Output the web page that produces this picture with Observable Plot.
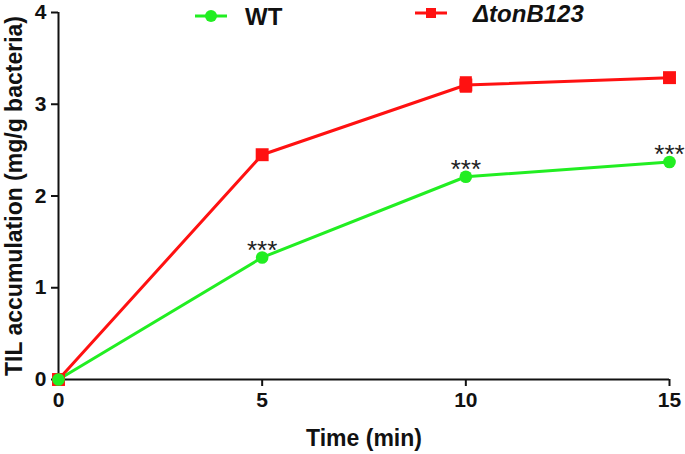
<!DOCTYPE html>
<html><head><meta charset="utf-8">
<script src="https://cdn.jsdelivr.net/npm/d3@7"></script>
<script src="https://cdn.jsdelivr.net/npm/@observablehq/plot@0.6"></script>
<style>
html,body{margin:0;padding:0;background:#fff;}
#wrap{position:relative;width:685px;height:454px;font-family:"Liberation Sans",Arial,sans-serif;}
.leg{position:absolute;font-weight:bold;font-size:24px;color:#111;line-height:1.1;white-space:nowrap;}
.legmk{position:absolute;}
</style></head>
<body><div id="wrap"></div>
<script>
const times = [0, 5, 10, 15];
const wtValues = [0, 1.33, 2.21, 2.37];
const tonValues = [0, 2.45, 3.21, 3.29];
const tonErr = [0, 0, 0.09, 0];
const seriesNames = ["WT", "ΔtonB123"];
const sigLabels = ["", "***", "***", "***"];
const xTicks = [0, 5, 10, 15];
const yTicks = [0, 1, 2, 3, 4];

const green = "#22ee22";
const red = "#ff1111";

const data = [];
times.forEach((t, i) => {
  data.push({time: t, value: wtValues[i], err: 0, series: seriesNames[0], sig: sigLabels[i]});
  data.push({time: t, value: tonValues[i], err: tonErr[i], series: seriesNames[1], sig: ""});
});
const wt = data.filter(d => d.series === "WT");
const ton = data.filter(d => d.series !== "WT");

const chart = Plot.plot({
  width: 685, height: 454,
  marginLeft: 58, marginRight: 16, marginTop: 12, marginBottom: 75,
  style: {fontFamily: "Liberation Sans, Arial, sans-serif", background: "#fff", fontSize: "21px", fontWeight: "bold", color: "#111"},
  x: {domain: [0, 15]},
  y: {domain: [0, 4]},
  marks: [
    Plot.axisX({ticks: xTicks, tickFormat: "d", tickSize: 7, tickPadding: 6, strokeWidth: 2,
      label: "Time (min)", labelAnchor: "center", labelArrow: "none", labelOffset: 66}),
    Plot.axisY({ticks: yTicks, tickFormat: "d", tickSize: 7, tickPadding: 5, strokeWidth: 2,
      label: "TIL accumulation (mg/g bacteria)", labelAnchor: "center", labelArrow: "none", labelOffset: 53}),
    Plot.ruleX([0], {stroke: "#111", strokeWidth: 2}),
    Plot.ruleY([0], {stroke: "#111", strokeWidth: 2}),
    Plot.line(ton, {x: "time", y: "value", stroke: red, strokeWidth: 3}),
    Plot.line(wt, {x: "time", y: "value", stroke: green, strokeWidth: 3}),
    Plot.ruleX(ton, {x: "time", y1: d => d.value - d.err, y2: d => d.value + d.err, stroke: red, strokeWidth: 12}),
    Plot.dot(ton, {x: "time", y: "value", symbol: "square", fill: red, r: 7.3}),
    Plot.dot(wt, {x: "time", y: "value", symbol: "circle", fill: green, r: 6.3}),
    Plot.text(wt, {x: "time", y: "value", text: "sig", dy: -7, fontSize: 26, fontWeight: "normal", fill: "#222", lineAnchor: "middle"})
  ]
});
chart.querySelectorAll("g[aria-label]").forEach(g => {
  const a = g.getAttribute("aria-label");
  if (a.includes("axis label")) {
    g.style.fontSize = "23px";
    g.querySelectorAll("text").forEach(t => t.style.fontSize = "23px");
  }
});
const wrap = document.getElementById("wrap");
wrap.appendChild(chart);

function legendItem(lineX, lineY, textX, color, shape, label, italic) {
  const mk = document.createElement("div");
  mk.className = "legmk";
  mk.style.left = lineX + "px";
  mk.style.top = (lineY - 10) + "px";
  const m = shape === "circle"
    ? `<circle cx="16" cy="10" r="6" fill="${color}"/>`
    : `<rect x="11" y="5" width="10" height="10" fill="${color}"/>`;
  mk.innerHTML = `<svg width="32" height="20"><line x1="0" x2="32" y1="10" y2="10" stroke="${color}" stroke-width="3"/>${m}</svg>`;
  wrap.appendChild(mk);
  const tx = document.createElement("div");
  tx.className = "leg";
  tx.style.left = textX + "px";
  tx.style.top = (lineY - 12) + "px";
  if (italic) tx.style.fontStyle = "italic";
  tx.textContent = label;
  wrap.appendChild(tx);
}
legendItem(195, 16, 245, green, "circle", seriesNames[0], false);
legendItem(415, 13, 473, red, "square", seriesNames[1], true);
</script></body></html>
